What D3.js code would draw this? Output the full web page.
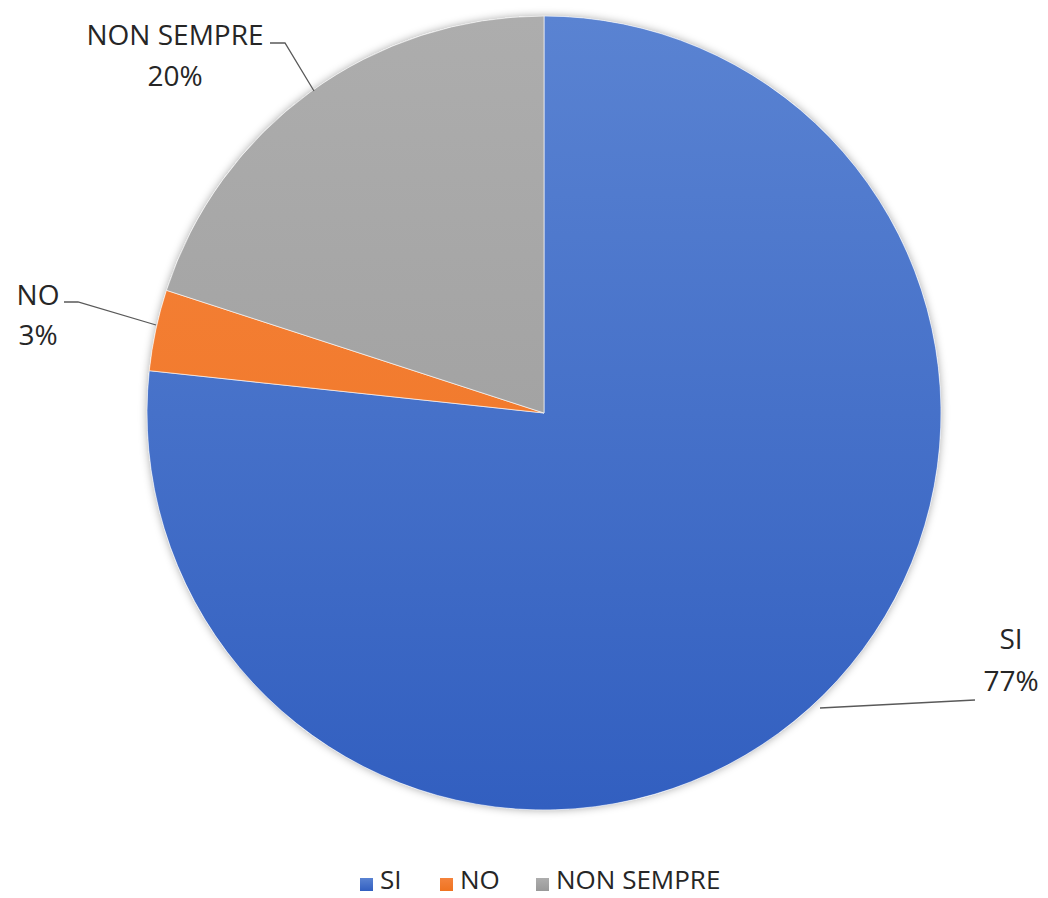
<!DOCTYPE html>
<html>
<head>
<meta charset="utf-8">
<script src="https://cdn.jsdelivr.net/npm/d3@7"></script>
<style>
  html, body { margin: 0; padding: 0; background: #fff; }
  svg { display: block; }
  text { font-family: "Open Sans", "Noto Sans", sans-serif; fill: #262626; }
</style>
</head>
<body>
<svg id="chart" width="1048" height="898"></svg>
<script>
// Data
const categories = ["SI", "NO", "NON SEMPRE"];
const values = [76.7, 3.3, 20.0];
const colorsTop = ["#5a83d2", "#f5833c", "#adadad"];
const colorsBottom = ["#325fc0", "#ef7320", "#999999"];

const cx = 544, cy = 413, R = 397;

const svg = d3.select("#chart");
const defs = svg.append("defs");

const shadow = defs.append("filter").attr("id", "sh")
  .attr("x", "-10%").attr("y", "-10%").attr("width", "120%").attr("height", "120%");
shadow.append("feDropShadow").attr("dx", 0).attr("dy", 0)
  .attr("stdDeviation", 4).attr("flood-color", "#000").attr("flood-opacity", 0.35);

categories.forEach((c, i) => {
  const g = defs.append("linearGradient").attr("id", "g" + i)
    .attr("gradientUnits", "userSpaceOnUse")
    .attr("x1", 0).attr("y1", -R).attr("x2", 0).attr("y2", R);
  g.append("stop").attr("offset", "0%").attr("stop-color", colorsTop[i]);
  g.append("stop").attr("offset", "100%").attr("stop-color", colorsBottom[i]);
  const lg = defs.append("linearGradient").attr("id", "lg" + i)
    .attr("x1", 0).attr("y1", 0).attr("x2", 0).attr("y2", 1);
  lg.append("stop").attr("offset", "0%").attr("stop-color", colorsTop[i]);
  lg.append("stop").attr("offset", "100%").attr("stop-color", colorsBottom[i]);
});

const data = categories.map((c, i) => ({ name: c, value: values[i], idx: i }));
const pie = d3.pie().value(d => d.value).sort(null);
const arcs = pie(data);
const arc = d3.arc().innerRadius(0).outerRadius(R);

const gPie = svg.append("g").attr("transform", `translate(${cx},${cy})`);
gPie.append("circle").attr("r", R).attr("fill", "#fff").attr("filter", "url(#sh)");
gPie.selectAll("path.slice").data(arcs).join("path")
  .attr("class", "slice")
  .attr("d", arc)
  .attr("fill", d => `url(#g${d.data.idx})`)
  .attr("stroke", "#ffffff").attr("stroke-opacity", 0.6).attr("stroke-width", 1);

// Data labels with leader lines
const fmt = d3.format(".0f");
const labelPos = {
  "SI":         { x: 1011, y1: 649, y2: 691, line: [[975, 700], [820, 708]] },
  "NO":         { x: 38,   y1: 305, y2: 345, line: [[64, 302], [78, 302], [156, 325]] },
  "NON SEMPRE": { x: 175,  y1: 45,  y2: 86,  line: [[270, 43], [285, 43], [314, 91]] }
};
const fs = 28;
const lbl = svg.append("g");
arcs.forEach(a => {
  const p = labelPos[a.data.name];
  lbl.append("path")
    .attr("d", d3.line()(p.line))
    .attr("fill", "none").attr("stroke", "#595959").attr("stroke-width", 1.3);
  lbl.append("text").attr("x", p.x).attr("y", p.y1).attr("text-anchor", "middle")
    .attr("font-size", fs).text(a.data.name);
  lbl.append("text").attr("x", p.x).attr("y", p.y2).attr("text-anchor", "middle")
    .attr("font-size", fs).text(fmt(a.data.value) + "%");
});

// Legend
const legendX = [360, 440, 536];
const leg = svg.append("g");
categories.forEach((c, i) => {
  leg.append("rect").attr("x", legendX[i]).attr("y", 878).attr("width", 13).attr("height", 13)
    .attr("fill", `url(#lg${i})`);
  leg.append("text").attr("x", legendX[i] + 20).attr("y", 889)
    .attr("font-size", 26).text(c);
});
</script>
</body>
</html>
